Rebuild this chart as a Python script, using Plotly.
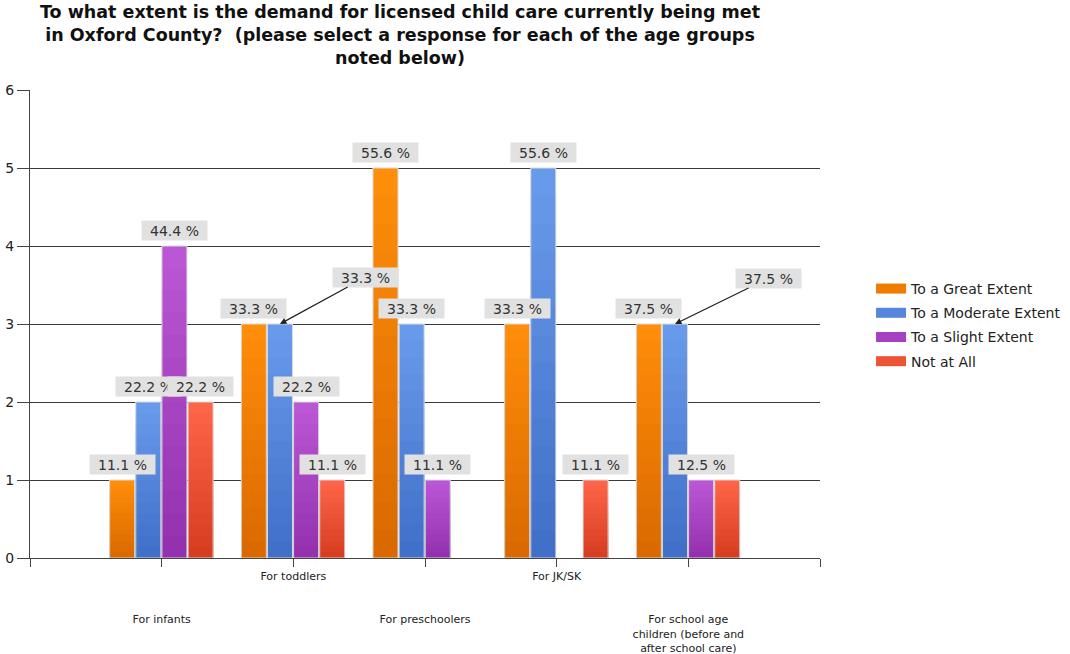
import plotly.graph_objects as go

# ---------------- data ----------------
categories = ["For infants", "For toddlers", "For preschoolers", "For JK/SK",
              "For school age<br>children (before and<br>after school care)"]
series_names = ["To a Great Extent", "To a Moderate Extent", "To a Slight Extent", "Not at All"]
great = [1, 3, 5, 3, 3]
moderate = [2, 3, 3, 5, 3]
slight = [4, 2, 1, 0, 1]
not_at_all = [2, 1, 0, 1, 1]
great_labels = ["11.1 %", "33.3 %", "55.6 %", "33.3 %", "37.5 %"]
moderate_labels = ["22.2 %", "33.3 %", "33.3 %", "55.6 %", "37.5 %"]
slight_labels = ["44.4 %", "22.2 %", "11.1 %", None, "12.5 %"]
not_labels = ["22.2 %", "11.1 %", None, "11.1 %", None]
y_ticks = [0, 1, 2, 3, 4, 5, 6]

# ---------------- style ----------------
FONT = "DejaVu Sans"
top_colors = ["#FF8E0A", "#6A9CEC", "#BC58D6", "#FF6549"]
bot_colors = ["#D96800", "#3E6EC6", "#9230AE", "#D63C1E"]
legend_colors = ["#EE7C00", "#5585DC", "#A540C2", "#EE5434"]
N_LAYERS = 14
BAR_W = 0.19
PITCH = 0.1985
GROUP_LEFT = -0.395
# callout labels: (series index, category index) -> (ax, ay) pixel offsets
callouts = {(1, 1): (86, -47), (1, 4): (94, -46)}

series_vals = [great, moderate, slight, not_at_all]
series_labels = [great_labels, moderate_labels, slight_labels, not_labels]
pos = list(range(1, len(categories) + 1))


def hex2rgb(h):
    h = h.lstrip("#")
    return [int(h[i:i + 2], 16) for i in (0, 2, 4)]


def lerp(c1, c2, t):
    a, b = hex2rgb(c1), hex2rgb(c2)
    return "rgb(%d,%d,%d)" % tuple(round(a[i] + (b[i] - a[i]) * t) for i in range(3))


fig = go.Figure()
annotations = []

for si, (name, vals, labs) in enumerate(zip(series_names, series_vals, series_labels)):
    off = GROUP_LEFT + si * PITCH
    # gradient built from overlapping layers (light top -> dark bottom)
    for k in range(N_LAYERS):
        frac = 1 - k / N_LAYERS
        t = 1 - (k + 0.5) / N_LAYERS
        fig.add_trace(go.Bar(
            x=pos, y=[v * frac for v in vals], width=BAR_W, offset=off,
            marker=dict(color=lerp(bot_colors[si], top_colors[si], t), line=dict(width=0)),
            showlegend=False, hoverinfo="skip"))
    # outline
    fig.add_trace(go.Bar(
        x=pos, y=[v if v else None for v in vals], width=BAR_W, offset=off,
        marker=dict(color="rgba(0,0,0,0)", line=dict(color="#d9d9d9", width=1)),
        name=name, showlegend=False, hovertemplate="%{y}<extra>" + name + "</extra>"))
    # legend entry
    fig.add_trace(go.Scatter(
        x=[None], y=[None], mode="lines", name=name, legendgroup=name,
        line=dict(color=legend_colors[si], width=10), showlegend=True))
    # value labels
    for ci, (p, v, lab) in enumerate(zip(pos, vals, labs)):
        if lab is None:
            continue
        xc = p + off + BAR_W / 2
        common = dict(x=xc, y=v, xref="x", yref="y", text=lab,
                      font=dict(family=FONT, size=14, color="#333333"),
                      bgcolor="#e1e1e1", width=63, height=17, borderpad=1)
        if (si, ci) in callouts:
            ax, ay = callouts[(si, ci)]
            annotations.append(dict(**common, showarrow=True, ax=ax, ay=ay,
                                    arrowhead=2, arrowsize=1, arrowwidth=1.3,
                                    arrowcolor="#222222", standoff=0))
        else:
            annotations.append(dict(**common, showarrow=False, yanchor="bottom", yshift=5))

ticktext = [""] + [c if i % 2 == 1 else "<br><br><br>" + c for i, c in enumerate(categories)] + [""]

fig.update_layout(
    width=1070, height=654,
    barmode="overlay",
    paper_bgcolor="white", plot_bgcolor="white",
    margin=dict(l=30, r=250, t=90, b=96, autoexpand=False),
    font=dict(family=FONT, color="#222222"),
    title=dict(
        text="<b>To what extent is the demand for licensed child care currently being met<br>"
             "in Oxford County?  (please select a response for each of the age groups<br>"
             "noted below)</b>",
        font=dict(family=FONT, size=17.5, color="#111111"),
        x=400 / 1070, xref="container", xanchor="center",
        y=1 - 18 / 654, yref="container", yanchor="top"),
    xaxis=dict(range=[0, len(categories) + 1], tickvals=[0] + pos + [len(categories) + 1],
               ticktext=ticktext, showgrid=False, zeroline=False, automargin=False,
               showline=True, linecolor="#444444", linewidth=1.2,
               ticks="outside", ticklen=8, tickcolor="#444444", tickwidth=1.2,
               tickfont=dict(family=FONT, size=11, color="#222222")),
    yaxis=dict(range=[0, 6], tickvals=y_ticks, showgrid=True, gridcolor="#3a3a3a", gridwidth=1.1,
               zeroline=False, showline=True, linecolor="#444444", linewidth=1.2, automargin=False,
               ticks="outside", ticklen=12, tickcolor="#444444", tickwidth=1.2,
               tickfont=dict(family=FONT, size=14, color="#222222")),
    legend=dict(x=1.0646, xanchor="left", y=0.609, yanchor="top",
                font=dict(family=FONT, size=14, color="#222222"),
                tracegroupgap=3, bgcolor="rgba(0,0,0,0)"),
    annotations=annotations,
)

fig.write_html("out.html")
